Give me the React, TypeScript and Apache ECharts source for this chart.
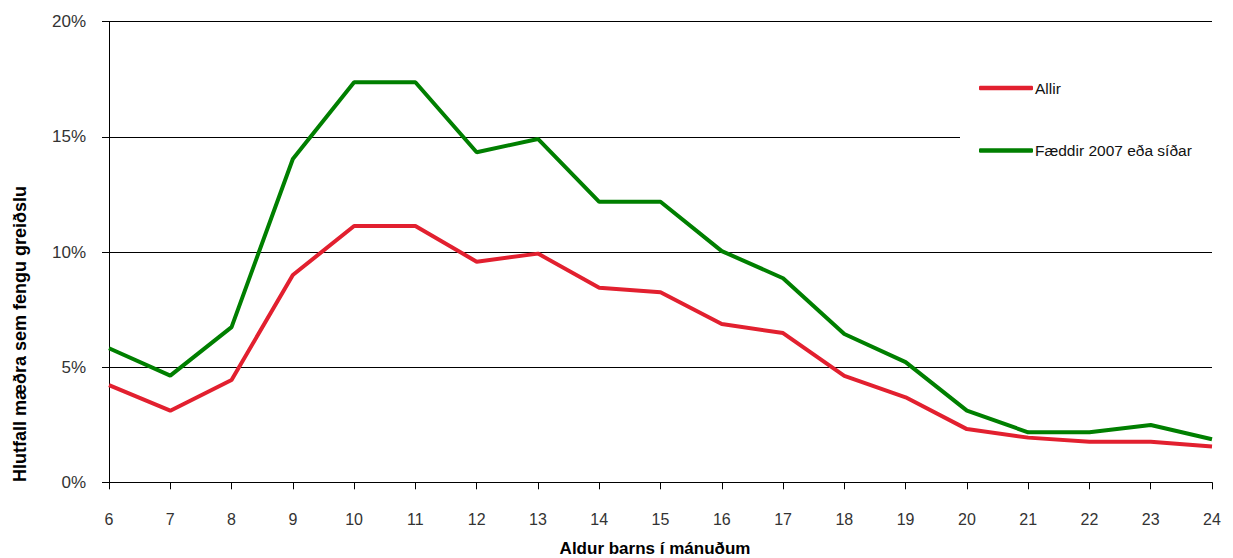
import React, { useEffect, useRef } from "react";
import * as echarts from "echarts";

const months = ["6","7","8","9","10","11","12","13","14","15","16","17","18","19","20","21","22","23","24"];
const allir = [4.22, 3.11, 4.44, 9.0, 11.13, 11.13, 9.58, 9.93, 8.45, 8.25, 6.87, 6.48, 4.62, 3.69, 2.31, 1.94, 1.76, 1.76, 1.55];
const faeddir = [5.82, 4.63, 6.74, 14.04, 17.37, 17.37, 14.33, 14.91, 12.18, 12.18, 10.04, 8.86, 6.44, 5.22, 3.11, 2.17, 2.17, 2.49, 1.87];
const seriesNames = ["Allir", "Fæddir 2007 eða síðar"];
const xTitle = "Aldur barns í mánuðum";
const yTitle = "Hlutfall mæðra sem fengu greiðslu";

export default function App() {
  const ref = useRef<HTMLDivElement>(null);
  useEffect(() => {
    if (!ref.current) return;
    const chart = echarts.init(ref.current, null, { renderer: "svg" });
    const font = "Arial, 'Liberation Sans', sans-serif";
    chart.setOption({
      animation: false,
      backgroundColor: "#ffffff",
      grid: { left: 109, right: 21, top: 21.7, bottom: 75.7, containLabel: false },
      legend: {
        orient: "vertical",
        left: 960,
        top: 50,
        padding: [30, 40, 45, 19],
        backgroundColor: "#ffffff",
        icon: "roundRect",
        itemWidth: 54,
        itemHeight: 4.5,
        itemGap: 46.5,
        textStyle: { fontFamily: font, fontSize: 15.5, color: "#111", padding: [0, 0, 0, -3] },
        data: seriesNames,
      },
      xAxis: {
        type: "category",
        data: months,
        boundaryGap: false,
        axisLine: { lineStyle: { color: "#000", width: 1 } },
        axisTick: { show: true, length: 7, inside: false, lineStyle: { color: "#000" } },
        axisLabel: { fontFamily: font, fontSize: 16, color: "#333", margin: 29 },
        splitLine: { show: false },
      },
      yAxis: {
        type: "value",
        min: 0,
        max: 20,
        interval: 5,
        axisLine: { show: true, lineStyle: { color: "#000", width: 1 } },
        axisTick: { show: true, length: 7, inside: false, lineStyle: { color: "#000" } },
        axisLabel: { fontFamily: font, fontSize: 17, color: "#333", margin: 23, formatter: "{value}%" },
        splitLine: { show: true, lineStyle: { color: "#000", width: 1 } },
      },
      graphic: [
        {
          type: "text",
          x: 655,
          y: 548,
          style: { text: xTitle, font: `bold 17px ${font}`, fill: "#000", align: "center", verticalAlign: "middle" },
        },
        {
          type: "text",
          x: 20,
          y: 334,
          rotation: Math.PI / 2,
          style: { text: yTitle, font: `bold 18px ${font}`, fill: "#000", align: "center", verticalAlign: "middle" },
        },
      ],
      series: [
        {
          name: seriesNames[0],
          type: "line",
          data: allir,
          symbol: "none",
          showSymbol: false,
          lineStyle: { color: "#e2202f", width: 4 },
          itemStyle: { color: "#e2202f" },
          z: 3,
        },
        {
          name: seriesNames[1],
          type: "line",
          data: faeddir,
          symbol: "none",
          showSymbol: false,
          lineStyle: { color: "#007f00", width: 4 },
          itemStyle: { color: "#007f00" },
          z: 3,
        },
      ],
    });
    return () => chart.dispose();
  }, []);
  return <div ref={ref} style={{ position: "fixed", left: 0, top: 0, width: 1233, height: 558 }} />;
}
